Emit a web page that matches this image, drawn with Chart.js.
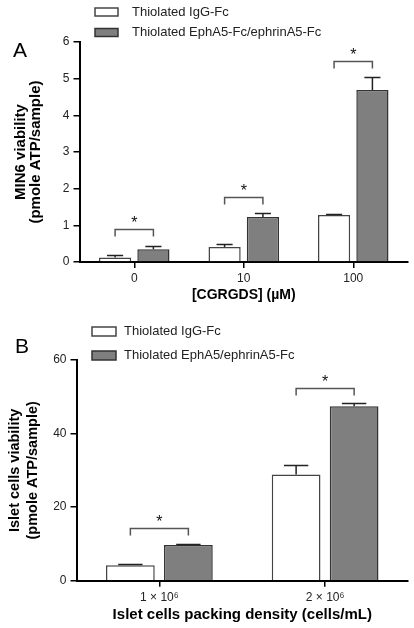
<!DOCTYPE html>
<html>
<head>
<meta charset="utf-8">
<script src="https://cdn.jsdelivr.net/npm/chart.js@4.4.0/dist/chart.umd.min.js"></script>
<style>
  html, body { margin: 0; padding: 0; background: #fff; }
  #wrapA { position: absolute; left: 0; top: 0; width: 414px; height: 310px; }
  #wrapB { position: absolute; left: 0; top: 310px; width: 414px; height: 318px; }
</style>
</head>
<body>
<div id="wrapA"><canvas id="chartA"></canvas></div>
<div id="wrapB"><canvas id="chartB"></canvas></div>
<script>
// ===== panel A data =====
const catsA = ["0", "10", "100"];
const igA = [0.12, 0.41, 1.28];
const igTopA = [0.18, 0.50, 1.31];      // mean + SEM
const ephA = [0.35, 1.23, 4.69];
const ephTopA = [0.45, 1.35, 5.05];
const sigA = [0.91, 1.78, 5.48];        // height of * brackets
const yTicksA = [0, 1, 2, 3, 4, 5, 6];

// ===== panel B data =====
const catsB = ["1 × 10⁶", "2 × 10⁶"];
const igB = [4.2, 28.9];
const igTopB = [4.5, 31.4];
const ephB = [9.7, 47.4];
const ephTopB = [9.96, 48.4];
const sigB = [14.2, 52.5];
const yTicksB = [0, 20, 40, 60];

const FONT = "'Liberation Sans', Arial, Helvetica, sans-serif";
const GREY = "#7f7f7f";

// error bars (only upward part is visible)
const errorBarPlugin = {
    id: "errorBars",
    afterDatasetsDraw(chart, args, opts) {
        const { ctx, scales: { y } } = chart;
        ctx.save();
        ctx.strokeStyle = "#222";
        ctx.lineWidth = 1.5;
        opts.tops.forEach((tops, di) => {
            chart.getDatasetMeta(di).data.forEach((bar, i) => {
                const yTop = Math.round(y.getPixelForValue(tops[i])) + 0.5;
                const half = bar.width / 4;
                ctx.beginPath();
                ctx.moveTo(bar.x, bar.y);
                ctx.lineTo(bar.x, yTop);
                ctx.moveTo(bar.x - half, yTop);
                ctx.lineTo(bar.x + half, yTop);
                ctx.stroke();
            });
        });
        ctx.restore();
    }
};

// significance brackets with *
const sigPlugin = {
    id: "sigBrackets",
    afterDatasetsDraw(chart, args, opts) {
        const { ctx, scales: { y } } = chart;
        const a = chart.getDatasetMeta(0).data;
        const b = chart.getDatasetMeta(1).data;
        ctx.save();
        ctx.strokeStyle = "#555";
        ctx.lineWidth = 1.5;
        ctx.fillStyle = "#111";
        ctx.font = `16px ${FONT}`;
        ctx.textAlign = "center";
        ctx.textBaseline = "alphabetic";
        opts.levels.forEach((lv, i) => {
            const yy = Math.round(y.getPixelForValue(lv)) + 0.5;
            ctx.beginPath();
            ctx.moveTo(a[i].x, yy + 7);
            ctx.lineTo(a[i].x, yy);
            ctx.lineTo(b[i].x, yy);
            ctx.lineTo(b[i].x, yy + 7);
            ctx.stroke();
            ctx.fillText("*", (a[i].x + b[i].x) / 2, yy - 2);
        });
        ctx.restore();
    }
};

// stacked legend + panel letter
const boxLegendPlugin = {
    id: "boxLegend",
    afterDraw(chart, args, o) {
        const ctx = chart.ctx;
        ctx.save();
        ctx.font = `13px ${FONT}`;
        ctx.textBaseline = "middle";
        ctx.textAlign = "left";
        chart.data.datasets.forEach((ds, i) => {
            const cy = o.y + i * o.rowGap;
            ctx.fillStyle = ds.backgroundColor;
            ctx.fillRect(o.x, cy - o.boxH / 2, o.boxW, o.boxH);
            ctx.strokeStyle = ds.borderColor;
            ctx.lineWidth = 1.5;
            ctx.strokeRect(o.x, cy - o.boxH / 2, o.boxW, o.boxH);
            ctx.fillStyle = "#222";
            ctx.fillText(ds.label, o.textX, cy);
        });
        ctx.font = `21px ${FONT}`;
        ctx.fillStyle = "#000";
        ctx.textBaseline = "alphabetic";
        ctx.fillText(o.letter, o.letterX, o.letterY);
        ctx.restore();
    }
};

function makePanel(id, p) {
    return new Chart(document.getElementById(id), {
        type: "bar",
        data: {
            labels: p.cats,
            datasets: [
                { label: "Thiolated IgG-Fc", data: p.ig, backgroundColor: "#fff", borderColor: "#444", borderWidth: 1.5 },
                { label: p.ephLabel, data: p.eph, backgroundColor: GREY, borderColor: "#333", borderWidth: 1.5 }
            ]
        },
        options: {
            responsive: true,
            maintainAspectRatio: false,
            animation: false,
            layout: { padding: { top: p.padTop, left: p.padLeft, right: 6, bottom: 0 } },
            datasets: { bar: { categoryPercentage: 0.7, barPercentage: 0.84 } },
            scales: {
                x: {
                    grid: { display: true, offset: false, drawOnChartArea: false, drawTicks: true, tickLength: 6, color: "#000", lineWidth: 1.5 },
                    border: { display: true, color: "#000", width: 2 },
                    ticks: { color: "#222", font: { family: FONT, size: 12 }, padding: p.xTickPad },
                    title: { display: true, text: p.xTitle, color: "#000", font: { family: FONT, size: p.xTitleSize, weight: "bold" }, padding: { top: 0, bottom: p.xTitlePadB } },
                    afterFit(scale) { scale.height = p.xHeight; }
                },
                y: {
                    min: p.yTicks[0],
                    max: p.yTicks[p.yTicks.length - 1],
                    afterBuildTicks(scale) { scale.ticks = p.yTicks.map(v => ({ value: v })); },
                    grid: { display: true, drawOnChartArea: false, drawTicks: true, tickLength: 6, color: "#000", lineWidth: 1.5 },
                    border: { display: true, color: "#000", width: 2 },
                    ticks: { color: "#222", font: { family: FONT, size: 12 }, padding: 4 },
                    title: { display: true, text: p.yTitle, color: "#000", font: { family: FONT, size: p.yTitleSize, weight: "bold", lineHeight: p.yTitleLH }, padding: 0 },
                    afterFit(scale) { scale.width = p.yWidth; }
                }
            },
            plugins: {
                legend: { display: false },
                tooltip: { enabled: false },
                errorBars: { tops: p.tops },
                sigBrackets: { levels: p.sig },
                boxLegend: p.legend
            }
        },
        plugins: [errorBarPlugin, sigPlugin, boxLegendPlugin]
    });
}

makePanel("chartA", {
    cats: catsA, ig: igA, eph: ephA, tops: [igTopA, ephTopA], sig: sigA, yTicks: yTicksA,
    ephLabel: "Thiolated EphA5-Fc/ephrinA5-Fc",
    xTitle: "[CGRGDS] (µM)", xTitleSize: 14, xTitlePadB: 6.6, xTickPad: 3, xHeight: 48,
    yTitle: ["MIN6 viability", "(pmole ATP/sample)"], yTitleSize: 15, yTitleLH: 1.0, yWidth: 66,
    padTop: 42, padLeft: 13.5,
    legend: { x: 95, y: 12, rowGap: 20.5, boxW: 23, boxH: 8, textX: 132, letter: "A", letterX: 13, letterY: 57 }
});

makePanel("chartB", {
    cats: catsB, ig: igB, eph: ephB, tops: [igTopB, ephTopB], sig: sigB, yTicks: yTicksB,
    ephLabel: "Thiolated EphA5/ephrinA5-Fc",
    xTitle: "Islet cells packing density (cells/mL)", xTitleSize: 15, xTitlePadB: 4, xTickPad: 3.5, xHeight: 47.3,
    yTitle: ["Islet cells viability", "(pmole ATP/sample)"], yTitleSize: 14.5, yTitleLH: 1.24, yWidth: 70,
    padTop: 50, padLeft: 6.5,
    legend: { x: 92, y: 21.5, rowGap: 24, boxW: 24, boxH: 9, textX: 124, letter: "B", letterX: 15, letterY: 43 }
});
</script>
</body>
</html>
